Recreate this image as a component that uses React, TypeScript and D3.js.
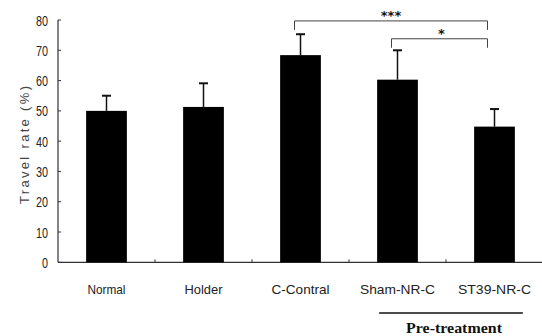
import React, { useEffect, useRef } from 'react';
import * as d3 from 'd3';

const groups = ['Normal', 'Holder', 'C-Contral', 'Sham-NR-C', 'ST39-NR-C'];
const means = [50, 51.3, 68.4, 60.3, 44.8];
const errs = [5, 7.8, 6.9, 9.7, 5.8];
const yTicks = [0, 10, 20, 30, 40, 50, 60, 70, 80];
// significance brackets: from, to, label, level
const sigFrom = ['C-Contral', 'Sham-NR-C'];
const sigTo = ['ST39-NR-C', 'ST39-NR-C'];
const sigText = ['***', '*'];
const sigLevel = [79.7, 73.8];
const pretreatGroups = ['Sham-NR-C', 'ST39-NR-C'];

const W = 542, H = 336;
const sans = '"Liberation Sans", Arial, sans-serif';

function App() {
    const ref = useRef<SVGSVGElement>(null);

    useEffect(() => {
        const svg = d3.select(ref.current);
        svg.selectAll('*').remove();

        const x = d3.scaleBand().domain(groups).range([58, 543]).paddingInner(0.58).paddingOuter(0.29);
        const y = d3.scaleLinear().domain([0, 80]).range([262.3, 20]);
        const bw = x.bandwidth();
        const cx = (g: string) => (x(g) as number) + bw / 2;

        // y axis
        svg.append('line')
            .attr('x1', 58).attr('x2', 58)
            .attr('y1', y(0)).attr('y2', y(80))
            .attr('stroke', '#333').attr('stroke-width', 1.2);
        svg.selectAll('.ytick').data(yTicks).enter().append('line')
            .attr('x1', 58).attr('x2', 61)
            .attr('y1', d => y(d)).attr('y2', d => y(d))
            .attr('stroke', '#333');
        svg.selectAll('.ylab').data(yTicks).enter().append('text')
            .attr('x', 48).attr('y', d => y(d) + 5.5)
            .attr('text-anchor', 'end')
            .attr('font-family', sans).attr('font-size', 15)
            .attr('textLength', d => d === 0 ? 6 : 12)
            .attr('lengthAdjust', 'spacingAndGlyphs')
            .attr('fill', '#222')
            .text(d => d);

        svg.append('text')
            .attr('transform', 'translate(29,' + 145 + ') rotate(-90)')
            .attr('text-anchor', 'middle')
            .attr('font-family', sans).attr('font-size', 13)
            .attr('textLength', 118)
            .attr('lengthAdjust', 'spacing')
            .attr('fill', '#444')
            .text('Travel rate (%)');

        // x axis
        svg.append('line')
            .attr('x1', 58).attr('x2', 543)
            .attr('y1', y(0)).attr('y2', y(0))
            .attr('stroke', '#333').attr('stroke-width', 1.2);
        svg.selectAll('.xtick').data(groups.slice(1)).enter().append('line')
            .attr('x1', d => (x(d) as number) - x.step() * x.paddingInner() / 2)
            .attr('x2', d => (x(d) as number) - x.step() * x.paddingInner() / 2)
            .attr('y1', y(0)).attr('y2', y(0) - 3)
            .attr('stroke', '#333');
        const labW = [38, 38, 58, 75, 73];
        svg.selectAll('.xlab').data(groups).enter().append('text')
            .attr('x', d => cx(d)).attr('y', 294)
            .attr('text-anchor', 'middle')
            .attr('font-family', sans).attr('font-size', 13)
            .attr('textLength', (d, i) => labW[i])
            .attr('lengthAdjust', 'spacingAndGlyphs')
            .attr('fill', '#222')
            .text(d => d);

        // bars
        svg.selectAll('.bar').data(groups).enter().append('rect')
            .attr('x', d => x(d) as number)
            .attr('y', (d, i) => y(means[i]))
            .attr('width', bw)
            .attr('height', (d, i) => y(0) - y(means[i]))
            .attr('fill', '#000');

        // error bars (upper only)
        svg.selectAll('.err').data(groups).enter().append('line')
            .attr('x1', d => cx(d)).attr('x2', d => cx(d))
            .attr('y1', (d, i) => y(means[i]))
            .attr('y2', (d, i) => y(means[i] + errs[i]))
            .attr('stroke', '#111').attr('stroke-width', 1.5);
        svg.selectAll('.cap').data(groups).enter().append('line')
            .attr('x1', d => cx(d) - 4.5).attr('x2', d => cx(d) + 4.5)
            .attr('y1', (d, i) => y(means[i] + errs[i]))
            .attr('y2', (d, i) => y(means[i] + errs[i]))
            .attr('stroke', '#111').attr('stroke-width', 2);

        // significance brackets
        sigFrom.forEach((f, i) => {
            const x1 = cx(f) - 6, x2 = cx(sigTo[i]) - 7;
            const yy = y(sigLevel[i]);
            svg.append('path')
                .attr('d', `M${x1},${yy + 9}V${yy}H${x2}V${yy + 9}`)
                .attr('fill', 'none')
                .attr('stroke', '#444').attr('stroke-width', 1);
            svg.append('text')
                .attr('x', i === 0 ? (x1 + x2) / 2 : x1 + (x2 - x1) * 0.52)
                .attr('y', yy - 1)
                .attr('text-anchor', 'middle')
                .attr('font-family', 'DejaVu Sans, sans-serif')
                .attr('font-size', 13).attr('font-weight', 'bold')
                .attr('fill', '#111')
                .text(sigText[i]);
        });

        // pre-treatment underline
        const p1 = x(pretreatGroups[0]) as number, p2 = (x(pretreatGroups[1]) as number) + bw;
        svg.append('line')
            .attr('x1', p1 + 2).attr('x2', p2 + 8)
            .attr('y1', 313).attr('y2', 313)
            .attr('stroke', '#111').attr('stroke-width', 1.5);
        svg.append('text')
            .attr('x', (p1 + p2) / 2 + 8).attr('y', 333)
            .attr('text-anchor', 'middle')
            .attr('font-family', '"Liberation Serif", "DejaVu Serif", serif')
            .attr('font-size', 15).attr('font-weight', 'bold')
            .attr('textLength', 96)
            .attr('lengthAdjust', 'spacingAndGlyphs')
            .attr('fill', '#111')
            .text('Pre-treatment');
    }, []);

    return (
        <svg ref={ref} width={W} height={H}
            style={{ position: 'absolute', left: 0, top: 0, background: '#fff' }} />
    );
}

export default App;
